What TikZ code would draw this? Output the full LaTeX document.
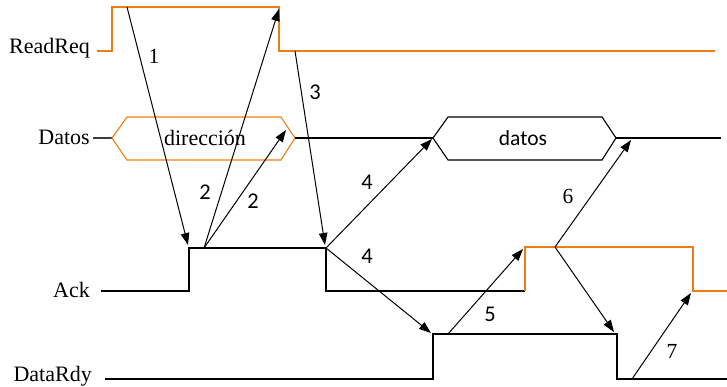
\documentclass[tikz,border=0pt]{standalone}
\usepackage{fontspec}
\setmainfont{Liberation Serif}
\newfontfamily\labsans{Carlito}
\usetikzlibrary{arrows.meta}
\definecolor{sigorange}{RGB}{235,125,20}
\definecolor{leadgray}{RGB}{60,60,60}
\tikzset{
  sig/.style={line width=1.1pt, line join=miter},
  osig/.style={sig, draw=sigorange},
  bsig/.style={sig, draw=black},
  evt/.style={line width=1pt, -{Triangle[length=12pt,width=8.5pt]}},
  lbl/.style={font=\fontsize{22}{24}\selectfont, inner sep=0pt, anchor=east},
  num/.style={font=\fontsize{21.5}{24}\selectfont, inner sep=0pt},
  snum/.style={font=\labsans\fontsize{22.5}{24}\selectfont, inner sep=0pt},
}
\begin{document}
\begin{tikzpicture}[x=1pt,y=-1pt]
\useasboundingbox (0,0) rectangle (727,386);
% signal names
\node[lbl] (nReadReq) at (90,48) {ReadReq};
\node[lbl] (nDatos) at (90,137) {Datos};
\node[lbl] (nAck) at (90,290) {Ack};
\node[lbl] (nDataRdy) at (92,376) {DataRdy};
% ReadReq
\draw[osig] (97,51)--(112,51)--(112,7)--(279,7)--(279,51)--(715,51);
% Datos
\draw[sig, draw=leadgray] (93,138)--(112,138);
\draw[osig] (112,138)--(127,117)--(281,117)--(295,138)--(281,160)--(127,160)--cycle;
\node[font=\fontsize{22}{24}\selectfont, inner sep=0pt] (ndir) at (205,138) {dirección};
\draw[bsig] (295,138)--(433,138);
\draw[bsig] (433,138)--(448,117)--(602,117)--(616,138)--(602,160)--(448,160)--cycle;
\node[font=\labsans\fontsize{21.5}{24}\selectfont, inner sep=0pt] (ndatos) at (523,138) {datos};
\draw[bsig] (616,138)--(721,138);
% Ack
\draw[bsig] (101,291)--(189,291)--(189,248)--(326,248)--(326,291)--(525,291);
\draw[osig] (525,291)--(525,247)--(693,247)--(693,291)--(727,291);
% DataRdy
\draw[bsig] (105,379)--(433,379)--(433,334)--(617,334)--(617,379)--(727,379);
% event coordinates
\coordinate (s1) at (127,7);   \coordinate (e1) at (188,245);
\coordinate (s2) at (204,248); \coordinate (e2a) at (279,9); \coordinate (e2b) at (286,130);
\coordinate (s3) at (295,51);  \coordinate (e3) at (325,245);
\coordinate (s4) at (326,248); \coordinate (e4a) at (432,139); \coordinate (e4b) at (431,333);
\coordinate (s5) at (448,334); \coordinate (e5) at (523,249);
\coordinate (s6) at (555,247); \coordinate (e6a) at (631,140); \coordinate (e6b) at (614,332);
\coordinate (s7) at (632,379); \coordinate (e7) at (691,293);
\draw[evt] (s1) -- (e1);
\draw[evt] (s2) -- (e2a);
\draw[evt] (s2) -- (e2b);
\draw[evt] (s3) -- (e3);
\draw[evt] (s4) -- (e4a);
\draw[evt] (s4) -- (e4b);
\draw[evt] (s5) -- (e5);
\draw[evt] (s6) -- (e6a);
\draw[evt] (s6) -- (e6b);
\draw[evt] (s7) -- (e7);
% labels
\node[num] (l1) at (154,56) {1};
\node[snum] (l2a) at (205,192) {2};
\node[snum] (l2b) at (253,201) {2};
\node[snum] (l3) at (315,92) {3};
\node[snum] (l4a) at (367,182) {4};
\node[snum] (l4b) at (367,256) {4};
\node[snum] (l5) at (490,314) {5};
\node[num] (l6) at (568,196) {6};
\node[num] (l7) at (672,351) {7};
\end{tikzpicture}
\end{document}
